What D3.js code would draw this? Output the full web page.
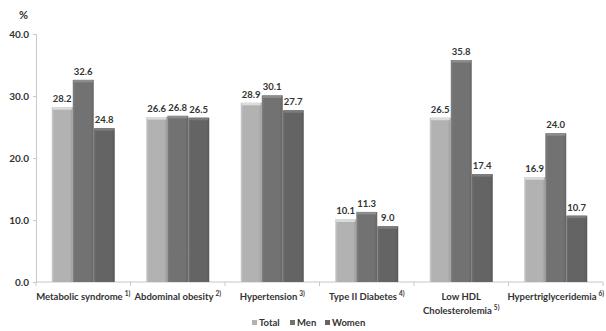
<!DOCTYPE html>
<html><head><meta charset="utf-8">
<script src="https://cdn.jsdelivr.net/npm/d3@7"></script>
<style>
html,body{margin:0;padding:0;background:#fff;}
svg{display:block;font-family:Lato,"Open Sans",sans-serif;font-weight:bold;}
</style></head>
<body><svg id="c" width="606" height="331"></svg>
<script>
const categories = [
  {lines:["Metabolic syndrome"], sup:"1)"},
  {lines:["Abdominal obesity"], sup:"2)"},
  {lines:["Hypertension"], sup:"3)"},
  {lines:["Type II Diabetes"], sup:"4)"},
  {lines:["Low HDL","Cholesterolemia"], sup:"5)"},
  {lines:["Hypertriglyceridemia"], sup:"6)"}
];
const seriesNames = ["Total","Men","Women"];
const total = [28.2, 26.6, 28.9, 10.1, 26.5, 16.9];
const men   = [32.6, 26.8, 30.1, 11.3, 35.8, 24.0];
const women = [24.8, 26.5, 27.7, 9.0, 17.4, 10.7];
const yTicks = [0, 10, 20, 30, 40];
const colors = ["#b2b2b2", "#727272", "#646464"];

const series = [total, men, women];
const svg = d3.select("#c");
const mLeft = 36, mRight = 603, mTop = 34, mBottom = 282;

const x0 = d3.scaleBand().domain(d3.range(categories.length)).range([mLeft, mRight]).paddingInner(0).paddingOuter(0);
const x1 = d3.scaleBand().domain(d3.range(3)).range([0, x0.bandwidth()]).paddingInner(0).paddingOuter(0.75);
const y = d3.scaleLinear().domain([0, 40]).range([mBottom, mTop]);

// gradients
const defs = svg.append("defs");
colors.forEach((c, i) => {
  const g = defs.append("linearGradient").attr("id", "g" + i).attr("x1", 0).attr("x2", 1).attr("y1", 0).attr("y2", 0);
  const base = d3.color(c);
  g.append("stop").attr("offset", "0%").attr("stop-color", base.brighter(0.35));
  g.append("stop").attr("offset", "12%").attr("stop-color", base);
  g.append("stop").attr("offset", "85%").attr("stop-color", base);
  g.append("stop").attr("offset", "100%").attr("stop-color", base.darker(0.35));
});

// y axis
const yAxis = d3.axisLeft(y).tickValues(yTicks).tickFormat(d3.format(".1f")).tickSize(3).tickPadding(4);
const ya = svg.append("g").attr("transform", `translate(${mLeft},0)`).call(yAxis);
ya.select(".domain").attr("stroke", "#c8c8c8");
ya.selectAll(".tick line").attr("stroke", "#c8c8c8");
ya.selectAll(".tick text").attr("fill", "#333").style("font-size", "10px").style("font-weight", "bold").attr("font-family", "Lato");

// x axis
const xa = svg.append("g").attr("transform", `translate(0,${mBottom})`);
xa.append("line").attr("x1", mLeft).attr("x2", mRight).attr("stroke", "#c8c8c8");
xa.selectAll("line.t").data(d3.range(categories.length + 1)).enter().append("line")
  .attr("x1", d => mLeft + d * x0.bandwidth()).attr("x2", d => mLeft + d * x0.bandwidth())
  .attr("y1", 0).attr("y2", 4).attr("stroke", "#c8c8c8");

svg.append("text").attr("x", 19).attr("y", 19).attr("fill", "#333").style("font-size", "11px").text("%");

// bars
const groups = svg.append("g").selectAll("g").data(categories).enter().append("g")
  .attr("transform", (d, i) => `translate(${x0(i)},0)`);
groups.each(function(d, ci) {
  const g = d3.select(this);
  series.forEach((s, si) => {
    const v = s[ci];
    const bx = x1(si), bw = x1.bandwidth();
    g.append("rect").attr("x", bx).attr("y", y(v)).attr("width", bw).attr("height", y(0) - y(v))
      .attr("fill", `url(#g${si})`);
    g.append("rect").attr("x", bx + 1).attr("y", y(v)).attr("width", bw - 2).attr("height", 2.5)
      .attr("fill", d3.color(colors[si]).brighter(0.6));
    g.append("text").attr("x", bx + bw / 2).attr("y", y(v) - 5).attr("text-anchor", "middle")
      .attr("fill", "#333").style("font-size", "9.5px").text(d3.format(".1f")(v));
  });
  const cx = x0.bandwidth() / 2;
  d.lines.forEach((ln, li) => {
    const t = g.append("text").attr("x", cx).attr("y", 300 + li * 14).attr("text-anchor", "middle")
      .attr("fill", "#333").style("font-size", "9.5px");
    t.append("tspan").text(ln);
    if (li === d.lines.length - 1) {
      t.append("tspan").attr("dx", 2).attr("dy", -4).style("font-size", "6.5px").text(d.sup);
    }
  });
});

// legend
const legX = [252, 290, 325];
const leg = svg.append("g");
seriesNames.forEach((n, i) => {
  leg.append("rect").attr("x", legX[i]).attr("y", 320).attr("width", 5).attr("height", 5).attr("fill", colors[i]);
  leg.append("text").attr("x", legX[i] + 7).attr("y", 326).attr("fill", "#333").style("font-size", "9.5px").text(n);
});
</script></body></html>
